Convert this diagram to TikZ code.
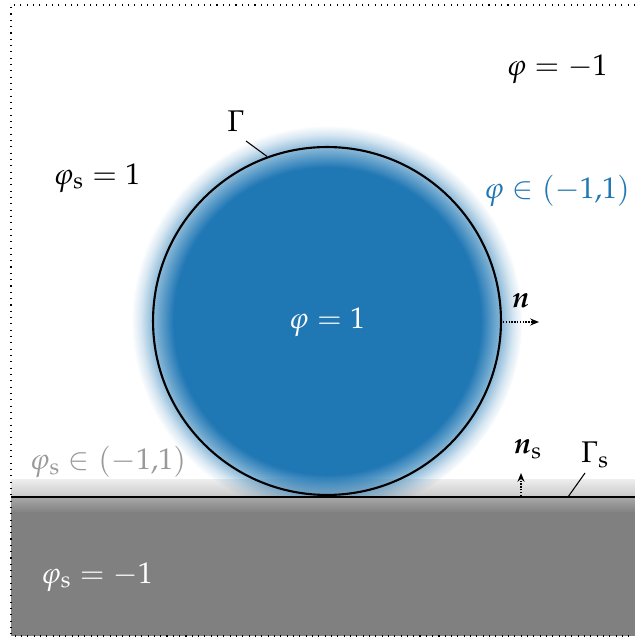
\documentclass[tikz,border=0pt]{standalone}
\usepackage{amsmath}
\usepackage{mathpazo}
\usepackage{bm}
\usetikzlibrary{arrows.meta,fadings}
\definecolor{cblue}{HTML}{1F77B4}
\pgfdeclareradialshading{haloshade}{\pgfpointorigin}{color(0bp)=(white); color(19.6bp)=(white); color(22.3bp)=(black!50); color(23.8bp)=(black!82); color(25bp)=(black); color(50bp)=(black)}
\pgfdeclarefading{halofade}{\pgfuseshading{haloshade}}
\tikzset{
  lbl/.style={font=\fontsize{17}{20}\selectfont, inner sep=0pt},
  border/.style={line width=0.9pt, dash pattern=on 0.6pt off 3pt},
  leader/.style={line width=0.6pt},
  normalarrow/.style={line width=0.8pt, dash pattern=on 0.8pt off 0.8pt, -{Stealth[length=5pt,width=4pt]}},
  bubblestyle/.style={circle, draw, line width=1.2pt, minimum size=6.96cm, inner sep=0pt},
}
\begin{document}
\begin{tikzpicture}[x=0.02cm, y=0.02cm]
\useasboundingbox (0,0) rectangle (635,639);
% wall gradient band above line
\shade[top color=gray!15, bottom color=gray!43] (11,142) rectangle (635,159);
% halo
\begin{scope}
  \clip (0,142) rectangle (635,639);
  \fill[cblue, path fading=halofade] (327,318) circle (3.9cm);
\end{scope}
% solid wall
\shade[top color=gray!68, bottom color=gray] (11,126) rectangle (635,142);
\fill[gray] (11,3) rectangle (635,126.5);
% border
\draw[border] (635,634) -- (11,634) -- (11,3) -- (635,3);
% wall line
\coordinate (wl) at (11,142);
\coordinate (wr) at (635,142);
\draw[line width=1.2pt] (wl) -- (wr);
% bubble
\node[bubblestyle] (bubble) at (327,318) {};
% labels
\node[lbl] (phim) at (557,570) {$\varphi = -1$};
\node[lbl] (phis1) at (97,461) {$\varphi_{\mathrm{s}} = 1$};
\node[lbl] (gam) at (236,518) {$\Gamma$};
\node[lbl, text=cblue] (phiint) at (557,448) {$\varphi \in (-1{,}1)$};
\node[lbl, text=white] (phi1) at (327,317) {$\varphi = 1$};
\node[lbl] (nlab) at (521,338) {$\bm{n}$};
\node[lbl] (nslab) at (528,190) {$\bm{n}_{\mathrm{s}}$};
\node[lbl] (gams) at (595,184) {$\Gamma_{\mathrm{s}}$};
\node[lbl, text=gray!80] (phisint) at (108,177) {$\varphi_{\mathrm{s}} \in (-1{,}1)$};
\node[lbl, text=white] (phism) at (97,62) {$\varphi_{\mathrm{s}} = -1$};
% leaders
\coordinate (gamend) at (246,498);
\draw[leader] (gamend) -- (bubble.110);
\coordinate (gamsa) at (585,166);
\coordinate (gamsb) at (568,142);
\draw[leader] (gamsa) -- (gamsb);
% normals
\coordinate (na) at (503,317);
\coordinate (nb) at (539,317);
\draw[normalarrow] (na) -- (nb);
\coordinate (nsa) at (521,143);
\coordinate (nsb) at (521,166);
\draw[normalarrow] (nsa) -- (nsb);
\end{tikzpicture}
\end{document}
